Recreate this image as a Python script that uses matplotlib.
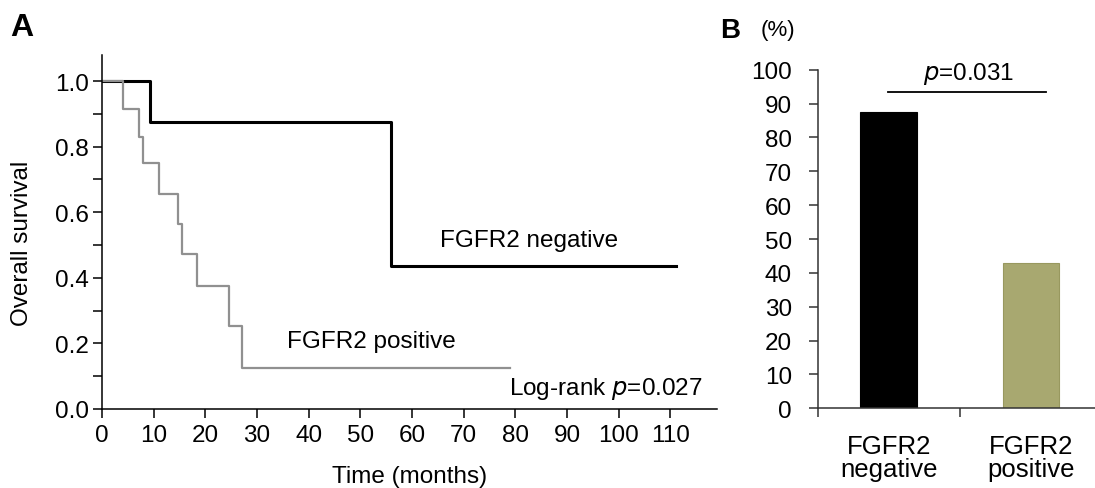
import numpy as np
import matplotlib.pyplot as plt

plt.rcParams['font.family'] = ['Liberation Sans', 'DejaVu Sans']

# Kaplan-Meier curves
neg_time = [0, 9.2, 56, 111]
neg_surv = [1.0, 0.875, 0.4375, 0.4375]
pos_time = [0, 4.1, 7.2, 7.9, 11.1, 14.6, 15.5, 18.3, 24.6, 27.0, 79]
pos_surv = [1.0, 0.915, 0.83, 0.75, 0.656, 0.564, 0.472, 0.375, 0.254, 0.125, 0.125]

# bar chart
groups = ["FGFR2\nnegative", "FGFR2\npositive"]
percent = [87.5, 42.9]
bar_colors = ["#000000", "#a8a870"]

fig = plt.figure(figsize=(10.95, 4.89), dpi=100)

# ---- panel A ----
ax = fig.add_axes([0.0932, 0.1616, 0.5616, 0.7243])
ax.step(neg_time, neg_surv, where="post", color="black", lw=2.2)
ax.step(pos_time, pos_surv, where="post", color="#909090", lw=1.6)
ax.set_xlim(0, 119)
ax.set_ylim(0, 1.08)
ax.set_xticks(np.arange(0, 111, 10))
ax.set_yticks(np.arange(0, 1.01, 0.2))
ax.set_yticks(np.arange(0.1, 1.0, 0.2), minor=True)
ax.set_yticklabels(["0.0", "0.2", "0.4", "0.6", "0.8", "1.0"])
ax.spines["top"].set_visible(False)
ax.spines["right"].set_visible(False)
for s in ["left", "bottom"]:
    ax.spines[s].set_linewidth(1.1)
ax.tick_params(which="both", direction="out", length=6.5, width=1.1, labelsize=17.5)
ax.tick_params(axis="x", pad=4)
ax.tick_params(axis="y", pad=3)
ax.set_xlabel("Time (months)", fontsize=17.5)
ax.xaxis.set_label_coords(0.5, -0.158)
ax.set_ylabel("Overall survival", fontsize=17.5)
ax.yaxis.set_label_coords(-0.112, 0.47)
ax.text(82.6, 0.497, "FGFR2 negative", fontsize=17.5, ha="center", va="baseline")
ax.text(52.2, 0.188, "FGFR2 positive", fontsize=17.5, ha="center", va="baseline")
ax.text(97.4, 0.046, "Log-rank $\\it{p}$=0.027", fontsize=17.5, ha="center", va="baseline")
fig.text(0.009, 0.942, "A", fontsize=23, fontweight="bold", va="center")

# ---- panel B ----
bx = fig.add_axes([0.7468, 0.163, 0.2596, 0.6924])
x = np.arange(len(groups))
bx.bar(x, percent, width=0.4, color=bar_colors, edgecolor=["#000000", "#98985f"], lw=0.8)
bx.set_xlim(-0.5, 1.5)
bx.set_ylim(0, 100)
bx.set_yticks(np.arange(0, 101, 10))
bx.set_xticks([-0.5, 0.5, 1.5])
bx.set_xticklabels([])
for xi, g in zip(x, groups):
    bx.text(xi, -7.6, g, fontsize=18.5, ha="center", va="top", linespacing=0.95)
bx.spines["top"].set_visible(False)
bx.spines["right"].set_visible(False)
for s in ["left", "bottom"]:
    bx.spines[s].set_linewidth(1.1)
    bx.spines[s].set_color("#333333")
bx.tick_params(direction="out", length=6.7, width=1.1, color="#333333", labelsize=17.5)
bx.tick_params(axis="y", pad=12)
bx.plot([-0.007, 1.108], [93.3, 93.3], color="black", lw=1.3, clip_on=False)
bx.text(0.558, 97.3, "$\\it{p}$=0.031", fontsize=17.5, ha="center", va="baseline")
fig.text(0.658, 0.937, "B", fontsize=20, fontweight="bold", va="center")
fig.text(0.695, 0.937, "(%)", fontsize=16, va="center")

fig.savefig("out.png", dpi=100)
